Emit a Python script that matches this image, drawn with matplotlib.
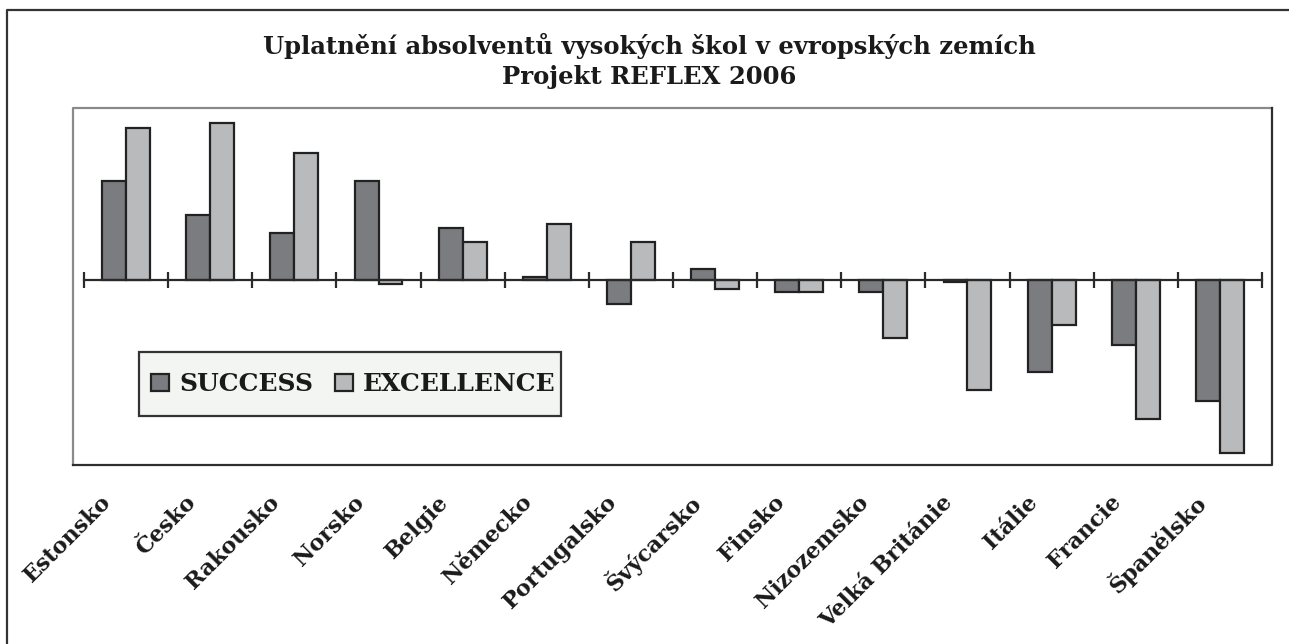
import matplotlib
matplotlib.use("Agg")
import matplotlib.pyplot as plt
import matplotlib.transforms as mtransforms
from matplotlib.lines import Line2D
from matplotlib.patches import Rectangle
import numpy as np

countries = ["Estonsko", "Česko", "Rakousko", "Norsko", "Belgie", "Německo",
             "Portugalsko", "Švýcarsko", "Finsko", "Nizozemsko", "Velká Británie",
             "Itálie", "Francie", "Španělsko"]
success = [99, 65, 47, 99, 52, 3, -24, 11, -12, -12, -2, -92, -65, -121]
excellence = [152, 157, 127, -4, 38, 56, 38, -9, -12, -58, -110, -45, -139, -173]
series_names = ["SUCCESS", "EXCELLENCE"]
title_text = "Uplatnění absolventů vysokých škol v evropských zemích\nProjekt REFLEX 2006"

W, H = 1289, 644
fig = plt.figure(figsize=(W / 100, H / 100), dpi=100)
FONT = "DejaVu Serif"

# axes placement (pixels)
x0, x1, ytop, ybot = 73, 1272, 108, 465
ax = fig.add_axes([x0 / W, 1 - ybot / H, (x1 - x0) / W, (ybot - ytop) / H])

n = len(countries)
x = np.arange(n)
bw = 0.285
dark = "#7b7c80"
light = "#b9babc"
edge = "#222222"
b1 = ax.bar(x - bw / 2, success, bw, color=dark, edgecolor=edge, linewidth=1.6,
            label=series_names[0], zorder=3)
b2 = ax.bar(x + bw / 2, excellence, bw, color=light, edgecolor=edge, linewidth=1.6,
            label=series_names[1], zorder=3)

ax.set_xlim(-0.5 - 11 / 84.14, n - 0.5 + 10 / 84.14)
ax.set_ylim(-185.5, 171.5)

# spines: bottom spine moved to zero, frame drawn separately
for s in ["top", "left", "right"]:
    ax.spines[s].set_visible(False)
ax.spines["bottom"].set_position(("data", 0))
ax.spines["bottom"].set_bounds(-0.5, n - 0.5)
ax.spines["bottom"].set_color("#2a2a2a")
ax.spines["bottom"].set_linewidth(1.6)
ax.spines["bottom"].set_zorder(4)
ax.set_yticks([])
ax.set_xticks(np.arange(n + 1) - 0.5)
ax.set_xticklabels([])
ax.tick_params(axis="x", direction="inout", length=12, width=1.6, color="#2a2a2a")

# frame of plot area
ax.add_line(Line2D([0, 0, 1], [0, 1, 1], transform=ax.transAxes, color="#8a8a8a",
                   lw=1.6, clip_on=False, zorder=5))
ax.add_line(Line2D([0, 1, 1], [0, 0, 1], transform=ax.transAxes, color="#2e2e2e",
                   lw=1.6, clip_on=False, zorder=5))

# category labels
trans = mtransforms.blended_transform_factory(ax.transData, ax.transAxes)
for i, name in enumerate(countries):
    ax.text(i - 0.21, -0.095, name, transform=trans, rotation=45,
            rotation_mode="anchor", ha="right", va="center",
            fontsize=16, fontweight="bold", family=FONT, color="#1a1a1a")

# legend box + legend
ax.add_patch(Rectangle((66 / 1199, 49 / 357), 422 / 1199, 64 / 357,
                       transform=ax.transAxes, facecolor="#f3f5f2",
                       edgecolor="#333333", linewidth=1.6, zorder=6,
                       clip_on=False))
leg = ax.legend(handles=[b1, b2], labels=series_names, ncol=2,
                loc="center", bbox_to_anchor=(280.5 / 1199, 81 / 357),
                prop={"family": FONT, "weight": "bold", "size": 18},
                frameon=False, handlelength=0.7,
                handleheight=0.7, handletextpad=0.4, columnspacing=0.9,
                borderpad=0, borderaxespad=0)
leg.set_zorder(7)
for t in leg.get_texts():
    t.set_color("#1a1a1a")

# title
fig.text(0.5035, 1 - 61 / H, title_text, ha="center", va="center",
         fontsize=17.5, fontweight="bold", family=FONT, color="#1a1a1a",
         linespacing=1.3)

# outer border
fig.add_artist(Line2D([7 / W, 7 / W, 1], [0, 1 - 10 / H, 1 - 10 / H],
                      transform=fig.transFigure, color="#333333", lw=1.6))

fig.savefig("out.png", dpi=100)
